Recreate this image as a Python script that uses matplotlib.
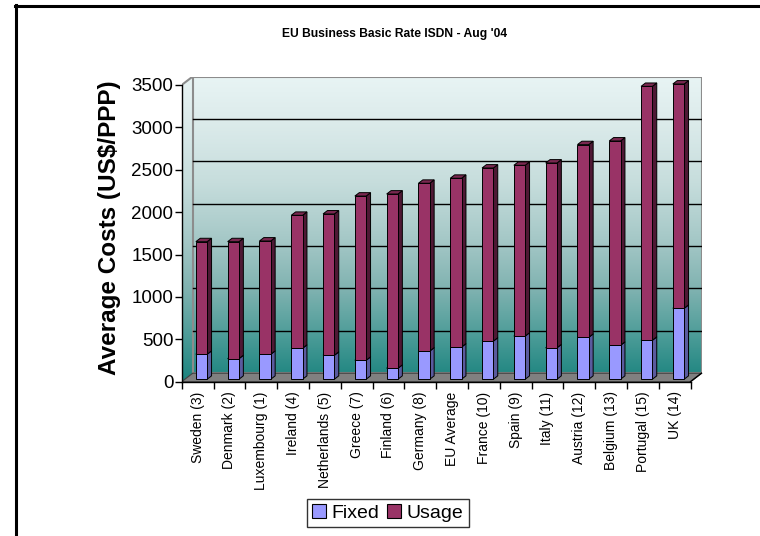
import numpy as np
import matplotlib.pyplot as plt
from matplotlib.patches import Polygon, Patch
from matplotlib.colors import LinearSegmentedColormap
from matplotlib.lines import Line2D

plt.rcParams["font.family"] = ["Liberation Sans", "DejaVu Sans"]

countries = ["Sweden (3)", "Denmark (2)", "Luxembourg (1)", "Ireland (4)",
             "Netherlands (5)", "Greece (7)", "Finland (6)", "Germany (8)",
             "EU Average", "France (10)", "Spain (9)", "Italy (11)",
             "Austria (12)", "Belgium (13)", "Portugal (15)", "UK (14)"]
fixed = [295, 243, 295, 366, 283, 224, 130, 333, 380, 450, 509, 371, 495, 401, 460, 837]
usage = [1328, 1380, 1336, 1568, 1667, 1937, 2055, 1979, 1991, 2042, 2015, 2180,
         2273, 2410, 2995, 2646]
y_ticks = [0, 500, 1000, 1500, 2000, 2500, 3000, 3500]

# oblique depth of the 3D box, in data units
DX, DY = 0.346, 100.0
YMAX = 3500
N = len(countries)

fig = plt.figure(figsize=(7.6, 5.36), dpi=100)
W, H = 760, 536
left, bottom = 181.7, 381.7
ppu = 31.8
ax_w = (N + DX) * ppu
ax_h = (YMAX + DY) / 3500 * 296.7
ax = fig.add_axes([left / W, (H - bottom) / H, ax_w / W, ax_h / H])
ax.set_xlim(0, N + DX)
ax.set_ylim(0, YMAX + DY)

# walls with a vertical teal gradient
wall_cmap = LinearSegmentedColormap.from_list(
    "wall", [(0.0, "#1A837E"), (0.15, "#4C9C98"), (0.3, "#7FB2B0"),
             (0.45, "#A2C6C5"), (0.65, "#C6DDDC"), (0.85, "#DCEBEB"),
             (1.0, "#E8F4F4")])
grad = np.linspace(0, 1, 256).reshape(-1, 1)
img = ax.imshow(grad, extent=(0, N + DX, 0, YMAX + DY), origin="lower",
                cmap=wall_cmap, aspect="auto", zorder=0, interpolation="bicubic")
walls = Polygon([(0, 0), (DX, DY), (N + DX, DY), (N + DX, YMAX + DY),
                 (DX, YMAX + DY), (0, YMAX)], closed=True, transform=ax.transData)
img.set_clip_path(walls)

# back wall outline and gridlines
ax.add_patch(Polygon([(DX, DY), (N + DX, DY), (N + DX, YMAX + DY), (DX, YMAX + DY)],
                     closed=True, fill=False, edgecolor="#8C8C8C", lw=1.5, zorder=1))
for t in y_ticks[1:-1]:
    ax.plot([DX, N + DX], [t + DY, t + DY], color="black", lw=1.0, zorder=1)
ax.plot([0, DX], [YMAX, YMAX + DY], color="#8C8C8C", lw=1.5, zorder=1)

# floor
ax.add_patch(Polygon([(0, 0), (N, 0), (N + DX, DY), (DX, DY)], closed=True,
                     facecolor="#808080", edgecolor="#404040", lw=0.8, zorder=1))

# stacked 3D columns
f0, fd = 0.29, 0.40
a, bw = 0.345, 0.355
ox, oy = f0 * DX, f0 * DY
sx, sy = fd * DX, fd * DY
seg_colors = [("#9999FF", "#5A5A9E", "#7A7AD0"), ("#993366", "#4E1834", "#7A2850")]
for i in range(N):
    x0 = i + a + ox
    x1 = x0 + bw
    base = oy
    for vals, (front, side, top) in zip([fixed, usage], seg_colors):
        y0, y1 = base, base + vals[i]
        ax.add_patch(Polygon([(x1, y0), (x1 + sx, y0 + sy), (x1 + sx, y1 + sy), (x1, y1)],
                             facecolor=side, edgecolor="black", lw=0.7, zorder=3))
        ax.add_patch(Polygon([(x0, y1), (x1, y1), (x1 + sx, y1 + sy), (x0 + sx, y1 + sy)],
                             facecolor=top, edgecolor="black", lw=0.7, zorder=3))
        ax.add_patch(Polygon([(x0, y0), (x1, y0), (x1, y1), (x0, y1)],
                             facecolor=front, edgecolor="black", lw=0.7, zorder=4))
        base = y1

# axes lines and ticks
for s in ["top", "right"]:
    ax.spines[s].set_visible(False)
ax.spines["left"].set_bounds(0, YMAX)
ax.spines["bottom"].set_bounds(0, N)
ax.spines["left"].set_linewidth(1.0)
ax.spines["bottom"].set_linewidth(1.0)
ax.plot([N, N + DX], [0, DY], color="black", lw=1.0, zorder=2, clip_on=False)

ax.set_yticks(y_ticks)
ax.set_yticklabels([str(t) for t in y_ticks], fontsize=13.5)
ax.tick_params(axis="y", length=5, width=1, pad=1)

ax.set_xticks(np.arange(0, N + 1))
ax.set_xticklabels([])
ax.set_xticks(np.arange(N) + 0.5, minor=True)
ax.set_xticklabels(countries, minor=True, rotation=90, fontsize=10)
ax.tick_params(axis="x", which="major", length=5, width=1)
ax.tick_params(axis="x", which="minor", length=0, pad=7)

fig.text(110 / W, 1 - 228 / H, "Average Costs (US$/PPP)", rotation=90,
         ha="center", va="center", fontsize=17.5, fontweight="bold")
fig.text(395 / W, 1 - 34 / H, "EU Business Basic Rate ISDN - Aug '04",
         ha="center", va="center", fontsize=8.7, fontweight="bold")

handles = [Patch(facecolor="#9999FF", edgecolor="black", lw=0.8, label="Fixed"),
           Patch(facecolor="#993366", edgecolor="black", lw=0.8, label="Usage")]
leg = fig.legend(handles=handles, loc="center", bbox_to_anchor=(388 / W, 1 - 513 / H),
                 ncol=2, fontsize=14, frameon=True, fancybox=False,
                 handlelength=0.7, handleheight=0.7, handletextpad=0.3,
                 columnspacing=0.4, borderpad=0.25, borderaxespad=0)
leg.get_frame().set_edgecolor("black")
leg.get_frame().set_linewidth(1.0)

# page border on the left and top
fig.add_artist(Line2D([16 / W, 16 / W], [0, 1 - 5 / H], color="black", lw=2.2))
fig.add_artist(Line2D([15 / W, 1], [1 - 6 / H, 1 - 6 / H], color="black", lw=2.2))

fig.savefig("out.png", dpi=100)
